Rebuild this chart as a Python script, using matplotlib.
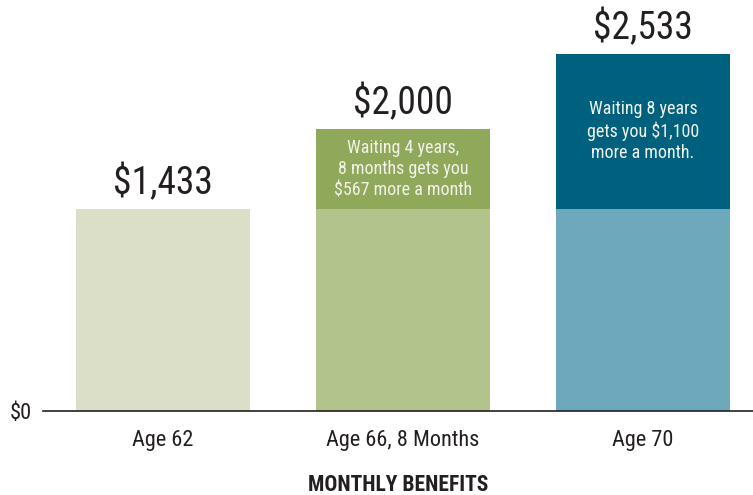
import matplotlib
matplotlib.use("Agg")
import matplotlib.pyplot as plt
import numpy as np

categories = ['Age 62', 'Age 66, 8 Months', 'Age 70']
base_values = [1433, 1433, 1433]
total_values = [1433, 2000, 2533]
value_labels = ['$1,433', '$2,000', '$2,533']
notes = ['',
         'Waiting 4 years,\n8 months gets you\n$567 more a month',
         'Waiting 8 years\ngets you $1,100\nmore a month.']
base_colors = ['#dbdfc8', '#b2c38c', '#6ea8bd']
top_colors = ['#dbdfc8', '#8fa85a', '#00617f']

FAM = ['Liberation Sans Narrow', 'Roboto Condensed', 'DejaVu Sans']
plt.rcParams['font.family'] = FAM
plt.rcParams['font.stretch'] = 'condensed'
TXT = '#231f20'

fig = plt.figure(figsize=(7.53, 4.95), dpi=100)
ax = fig.add_axes([43/753, 84/495, 1 - 43/753, 411/495])

x = np.arange(len(categories))
w = 174/240
extra = [t - b for t, b in zip(total_values, base_values)]
ax.bar(x, base_values, width=w, color=base_colors, linewidth=0)
ax.bar(x, extra, bottom=base_values, width=w, color=top_colors, linewidth=0)

for xi, t, lab in zip(x, total_values, value_labels):
    ax.text(xi, t + 45, lab, ha='center', va='bottom', fontsize=27, color=TXT)

for xi, b, t, note in zip(x, base_values, total_values, notes):
    if note:
        ax.text(xi, (b + t) / 2, note, ha='center', va='center', fontsize=13,
                color='#f2f2ea', linespacing=1.22)

ax.set_xlim(-0.5, 2.458)
ax.set_ylim(0, 2915)
ax.set_yticks([0])
ax.set_yticklabels(['$0'], fontsize=16, color=TXT)
ax.set_xticks(x)
ax.set_xticklabels(categories, fontsize=16, color=TXT)
ax.tick_params(axis='x', length=0, pad=14)
ax.tick_params(axis='y', length=0, pad=8)
for s in ['top', 'right', 'left']:
    ax.spines[s].set_visible(False)
ax.spines['bottom'].set_color(TXT)
ax.spines['bottom'].set_linewidth(1.2)
fig.text(398/753, 4/495, 'MONTHLY BENEFITS', ha='center', va='baseline',
         fontsize=15.5, fontweight='bold', color=TXT)

fig.savefig('out.png', dpi=100)
